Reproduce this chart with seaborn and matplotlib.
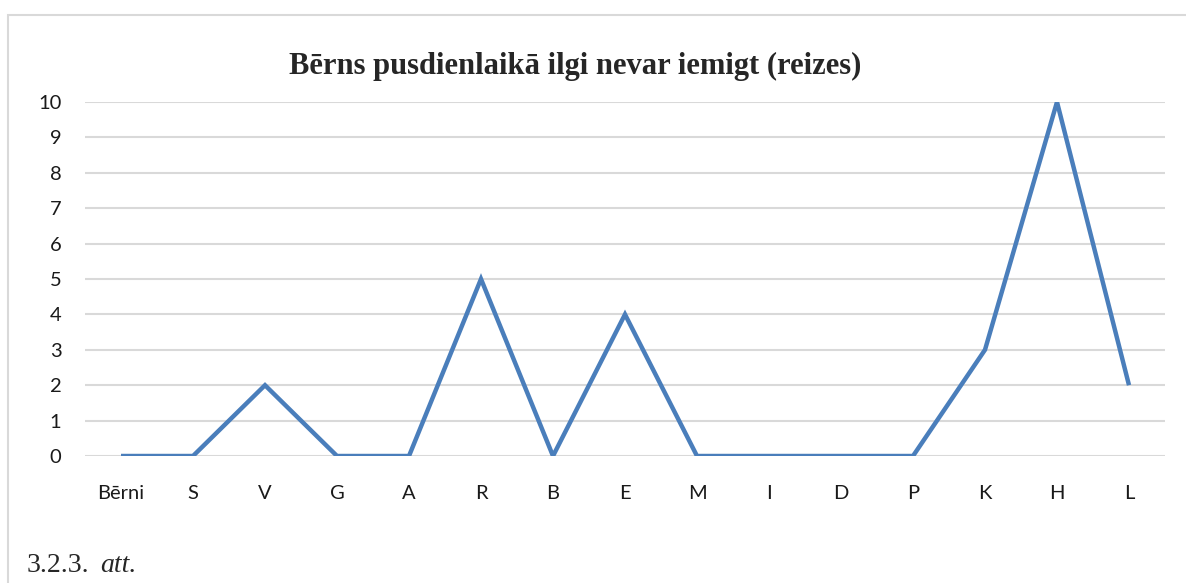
import matplotlib
matplotlib.use('Agg')
import matplotlib.pyplot as plt
from matplotlib.patches import Rectangle
import pandas as pd
import seaborn as sns

# ── Dati ──────────────────────────────────────────────────────────────────────
CATEGORIES = ['Bērni', 'S', 'V', 'G', 'A', 'R', 'B', 'E', 'M', 'I', 'D', 'P', 'K', 'H', 'L']
VALUES     = [0, 0, 2, 0, 0, 5, 0, 4, 0, 0, 0, 0, 3, 10, 2]
Y_TICKS    = list(range(0, 11))

TITLE   = 'Bērns pusdienlaikā ilgi nevar iemigt (reizes)'
LINE_C  = '#4A7EBB'
GRID_C  = '#D9D9D9'

df = pd.DataFrame({'pos': range(len(CATEGORIES)), 'value': VALUES})

sns.set_style('white')
plt.rcParams['font.family'] = ['Lato', 'DejaVu Sans']

fig = plt.figure(figsize=(11.86, 5.83), dpi=100)
ax = fig.add_axes([85 / 1186, 1 - 456 / 583, 1080 / 1186, 354 / 583])

sns.lineplot(data=df, x='pos', y='value', color=LINE_C, linewidth=3.2,
             ax=ax, solid_joinstyle='miter', solid_capstyle='butt')

ax.set_xlim(-0.5, len(CATEGORIES) - 0.5)
ax.set_ylim(0, 10)
ax.set_yticks(Y_TICKS)
ax.set_xticks(range(len(CATEGORIES)))
ax.set_xticklabels(CATEGORIES)
ax.set_xlabel('')
ax.set_ylabel('')
ax.tick_params(axis='y', length=0, pad=17, labelsize=14.5, colors='#1a1a1a')
ax.tick_params(axis='x', length=0, pad=21, labelsize=14.5, colors='#1a1a1a')

ax.grid(axis='y', color=GRID_C, linewidth=1.5)
ax.set_axisbelow(True)
for s in ax.spines.values():
    s.set_visible(False)

fig.text(575 / 1186, 1 - 66 / 583, TITLE, ha='center', va='center',
         fontsize=22, fontweight='bold', family='Liberation Serif')

fig.text(27 / 1186, 1 - 572 / 583, '3.2.3.', ha='left', va='baseline',
         fontsize=20, family='Liberation Serif')
fig.text(100 / 1186, 1 - 572 / 583, 'att.', ha='left', va='baseline',
         fontsize=20, family='Liberation Serif', style='italic')

# rāmis ap diagrammu
fig.patches.append(Rectangle((8 / 1186, -0.1), 1.2, 1 - 15 / 583 + 0.1,
                             transform=fig.transFigure, fill=False,
                             edgecolor=GRID_C, linewidth=1.5))

fig.savefig('out.png', dpi=100)
